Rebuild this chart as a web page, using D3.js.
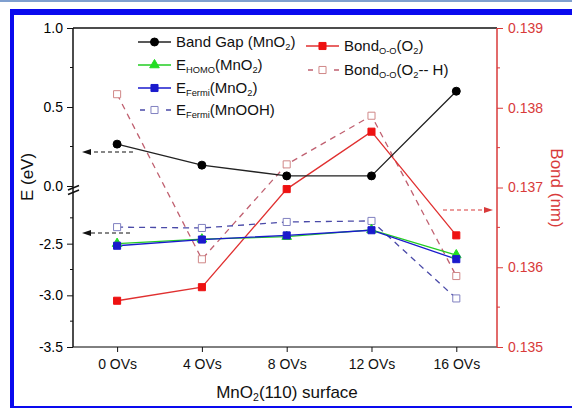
<!DOCTYPE html>
<html>
<head>
<meta charset="utf-8">
<script src="https://cdn.jsdelivr.net/npm/d3@7"></script>
<style>
  body { margin: 0; background: #fff; }
  svg { display: block; font-family: "Liberation Sans", Arial, sans-serif; }
</style>
</head>
<body>
<div id="chart"></div>
<script>
// data
var categories = ["0 OVs", "4 OVs", "8 OVs", "12 OVs", "16 OVs"];
var bandGap = [0.265, 0.132, 0.064, 0.064, 0.60];
var eHomo = [-2.50, -2.457, -2.432, -2.367, -2.61];
var eFermi = [-2.52, -2.46, -2.42, -2.37, -2.65];
var eFermiMnOOH = [-2.34, -2.348, -2.29, -2.28, -3.03];
var bondO2 = [0.13558, 0.13575, 0.13698, 0.13770, 0.13640];
var bondO2H = [0.13817, 0.13610, 0.13729, 0.13790, 0.13589];

var upperTicks = [0, 0.5, 1.0];
var upperMinor = [0.25, 0.75];
var lowerTicks = [-3.5, -3.0, -2.5];
var lowerMinor = [-3.25, -2.75, -2.25];
var bondTicks = [0.135, 0.136, 0.137, 0.138, 0.139];
var bondMinor = [0.1355, 0.1365, 0.1375, 0.1385];

var attrs = {
  width: 572,
  height: 408,
  left: 73,
  right: 497,
  top: 28,
  bottom: 347,
  breakTop: 186, // y of 0.0 on the upper segment
  lowerTop: 192, // y of -2.0 on the lower segment
  font: 14,
  black: '#111',
  red: '#d83a3a'
};

var svg = d3.select('#chart').append('svg')
  .attr('width', attrs.width)
  .attr('height', attrs.height);

// frame
svg.append('rect').attr('x', 0).attr('y', 0).attr('width', 572).attr('height', 2).attr('fill', '#7f9fcf');
svg.append('rect').attr('x', 10).attr('y', 9).attr('width', 562).attr('height', 6).attr('fill', '#0a0aee');
svg.append('rect').attr('x', 10).attr('y', 9).attr('width', 4).attr('height', 399).attr('fill', '#0a0aee');
svg.append('rect').attr('x', 10).attr('y', 406).attr('width', 562).attr('height', 2).attr('fill', '#0a0aee');

// scales
var x = d3.scaleLinear().domain([-0.52, 4.48]).range([attrs.left, attrs.right]);
var yUp = d3.scaleLinear().domain([0, 1]).range([attrs.breakTop, attrs.top]);
var yLow = d3.scaleLinear().domain([-3.5, -2.0]).range([attrs.bottom, attrs.lowerTop]);
var yBond = d3.scaleLinear().domain([0.135, 0.139]).range([attrs.bottom, attrs.top]);

// plain hyphen for negatives, like the original
var fmt1 = function (d) { return d.toFixed(1); };
var fmt3 = function (d) { return d.toFixed(3); };

var g = svg.append('g');

// top border line
g.append('line')
  .attr('x1', attrs.left).attr('x2', attrs.right)
  .attr('y1', attrs.top).attr('y2', attrs.top)
  .attr('stroke', attrs.black).attr('stroke-width', 1.5);

// x axis
var xAxis = g.append('g')
  .attr('transform', 'translate(0,' + attrs.bottom + ')')
  .call(d3.axisBottom(x)
    .tickValues(d3.range(categories.length))
    .tickFormat(function (d) { return categories[d]; })
    .tickSize(5).tickPadding(7));
xAxis.select('.domain').attr('d', 'M' + attrs.left + ',0H' + attrs.right);

// left axis (two segments sharing one line)
function leftAxis(scale, major, minor) {
  var a = g.append('g').attr('transform', 'translate(' + attrs.left + ',0)');
  a.call(d3.axisLeft(scale).tickValues(major).tickFormat(fmt1).tickSize(6).tickPadding(4));
  a.select('.domain').remove();
  a.selectAll('.minor').data(minor).enter().append('line')
    .attr('x1', -3).attr('x2', 0)
    .attr('y1', scale).attr('y2', scale)
    .attr('stroke', attrs.black);
  return a;
}
leftAxis(yUp, upperTicks, upperMinor);
leftAxis(yLow, lowerTicks, lowerMinor);
g.append('line')
  .attr('x1', attrs.left).attr('x2', attrs.left)
  .attr('y1', attrs.top).attr('y2', attrs.bottom)
  .attr('stroke', attrs.black).attr('stroke-width', 1.5);

// axis break marks
[0, 4.5].forEach(function (off) {
  g.append('line')
    .attr('x1', attrs.left - 5).attr('y1', 190 + off)
    .attr('x2', attrs.left + 6).attr('y2', 185.5 + off)
    .attr('stroke', attrs.black).attr('stroke-width', 1.5);
});

// right axis
var rAxis = g.append('g')
  .attr('transform', 'translate(' + attrs.right + ',0)')
  .call(d3.axisRight(yBond).tickValues(bondTicks).tickFormat(fmt3).tickSize(6).tickPadding(5));
rAxis.select('.domain').attr('d', 'M0,' + attrs.top + 'V' + attrs.bottom)
  .attr('stroke', attrs.red).attr('stroke-width', 1.5);
rAxis.selectAll('.tick line').attr('stroke', attrs.red);
rAxis.selectAll('.tick text').attr('fill', attrs.red);
rAxis.selectAll('.minor').data(bondMinor).enter().append('line')
  .attr('x1', 0).attr('x2', 3)
  .attr('y1', yBond).attr('y2', yBond)
  .attr('stroke', attrs.red);

g.selectAll('.tick text').attr('font-size', attrs.font).attr('font-family', null);
xAxis.selectAll('.tick text').attr('fill', attrs.black);
g.selectAll('.tick line').filter(function () { return !this.getAttribute('stroke') || this.getAttribute('stroke') === 'currentColor'; })
  .attr('stroke', attrs.black);

// rich text helper: parts = [[text, isSub]]
function rich(sel, parts) {
  parts.forEach(function (p) {
    var t = sel.append('tspan').text(p[0]);
    if (p[1]) t.attr('font-size', '0.62em').attr('baseline-shift', '-28%');
  });
  return sel;
}

// axis titles
g.append('text')
  .attr('transform', 'translate(33,177) rotate(-90)')
  .attr('text-anchor', 'middle')
  .attr('font-size', 17).attr('fill', attrs.black)
  .text('E (eV)');
g.append('text')
  .attr('transform', 'translate(551,188) rotate(90)')
  .attr('text-anchor', 'middle')
  .attr('font-size', 17).attr('fill', attrs.red)
  .text('Bond (nm)');
rich(g.append('text')
  .attr('x', 287).attr('y', 398)
  .attr('text-anchor', 'middle')
  .attr('font-size', 17).attr('fill', attrs.black),
  [['MnO'], ['2', true], ['(110) surface']]);

// series definitions
var series = [
  { values: bandGap, y: yUp, stroke: '#222', dash: null, marker: 'circle', fill: '#000', mstroke: '#000' },
  { values: eHomo, y: yLow, stroke: '#22cc22', dash: null, marker: 'triangle', fill: '#22dd22', mstroke: '#22dd22' },
  { values: eFermi, y: yLow, stroke: '#1a1acc', dash: null, marker: 'square', fill: '#1a1acc', mstroke: '#1a1acc' },
  { values: eFermiMnOOH, y: yLow, stroke: '#4a4aa8', dash: '6,5', marker: 'square', fill: '#fff', mstroke: '#8080c0' },
  { values: bondO2, y: yBond, stroke: '#e03030', dash: null, marker: 'square', fill: '#ee1111', mstroke: '#ee1111' },
  { values: bondO2H, y: yBond, stroke: '#c06070', dash: '6,5', marker: 'square', fill: '#fff', mstroke: '#d08888' }
];

var symbols = {
  circle: d3.symbol().type(d3.symbolCircle).size(50),
  triangle: d3.symbol().type(d3.symbolTriangle).size(40),
  square: d3.symbol().type(d3.symbolSquare).size(50)
};

// dashed arrows
function arrow(x1, x2, y, color) {
  var dir = x2 > x1 ? 1 : -1;
  g.append('line')
    .attr('x1', x1).attr('x2', x2 - dir * 6).attr('y1', y).attr('y2', y)
    .attr('stroke', color).attr('stroke-width', 1.2).attr('stroke-dasharray', '4,3');
  g.append('path')
    .attr('d', 'M' + x2 + ',' + y + 'L' + (x2 - dir * 9) + ',' + (y - 3) + 'L' + (x2 - dir * 9) + ',' + (y + 3) + 'Z')
    .attr('fill', color);
}
arrow(133, 82, 152, attrs.black);
arrow(130, 82, 233, attrs.black);
arrow(443, 493, 210, attrs.red);

var line = function (s) {
  return d3.line().x(function (d, i) { return x(i); }).y(function (d) { return s.y(d); });
};

// draw lines (bond lines first so others sit on top)
var order = [5, 4, 3, 0, 1, 2];
order.forEach(function (k) {
  var s = series[k];
  g.append('path')
    .datum(s.values)
    .attr('d', line(s))
    .attr('fill', 'none')
    .attr('stroke', s.stroke)
    .attr('stroke-width', 1.3)
    .attr('stroke-dasharray', s.dash);
});
order.forEach(function (k) {
  var s = series[k];
  g.selectAll('.m' + k).data(s.values).enter().append('path')
    .attr('transform', function (d, i) { return 'translate(' + x(i) + ',' + s.y(d) + ')'; })
    .attr('d', symbols[s.marker]())
    .attr('fill', s.fill)
    .attr('stroke', s.mstroke)
    .attr('stroke-width', 1);
});

// legend
var legendItems = [
  { s: 0, x: 138, y: 42, parts: [['Band Gap (MnO'], ['2', true], [')']] },
  { s: 1, x: 138, y: 65, parts: [['E'], ['HOMO', true], ['(MnO'], ['2', true], [')']] },
  { s: 2, x: 138, y: 88, parts: [['E'], ['Fermi', true], ['(MnO'], ['2', true], [')']] },
  { s: 3, x: 138, y: 110, parts: [['E'], ['Fermi', true], ['(MnOOH)']] },
  { s: 4, x: 306, y: 46, parts: [['Bond'], ['O-O', true], ['(O'], ['2', true], [')']] },
  { s: 5, x: 306, y: 70, parts: [['Bond'], ['O-O', true], ['(O'], ['2', true], ['-- H)']] }
];
var legend = g.append('g');
legendItems.forEach(function (it) {
  var s = series[it.s];
  legend.append('line')
    .attr('x1', it.x).attr('x2', it.x + 33)
    .attr('y1', it.y).attr('y2', it.y)
    .attr('stroke', s.stroke).attr('stroke-width', 1.3)
    .attr('stroke-dasharray', s.dash ? '5,8' : null)
    .attr('stroke-dashoffset', s.dash ? -2 : null);
  legend.append('path')
    .attr('transform', 'translate(' + (it.x + 16.5) + ',' + it.y + ')')
    .attr('d', symbols[s.marker]())
    .attr('fill', s.dash ? '#fff' : s.fill)
    .attr('stroke', s.mstroke);
  rich(legend.append('text')
    .attr('x', it.x + 38).attr('y', it.y + 5)
    .attr('font-size', 15).attr('fill', attrs.black), it.parts);
});
</script>
</body>
</html>
